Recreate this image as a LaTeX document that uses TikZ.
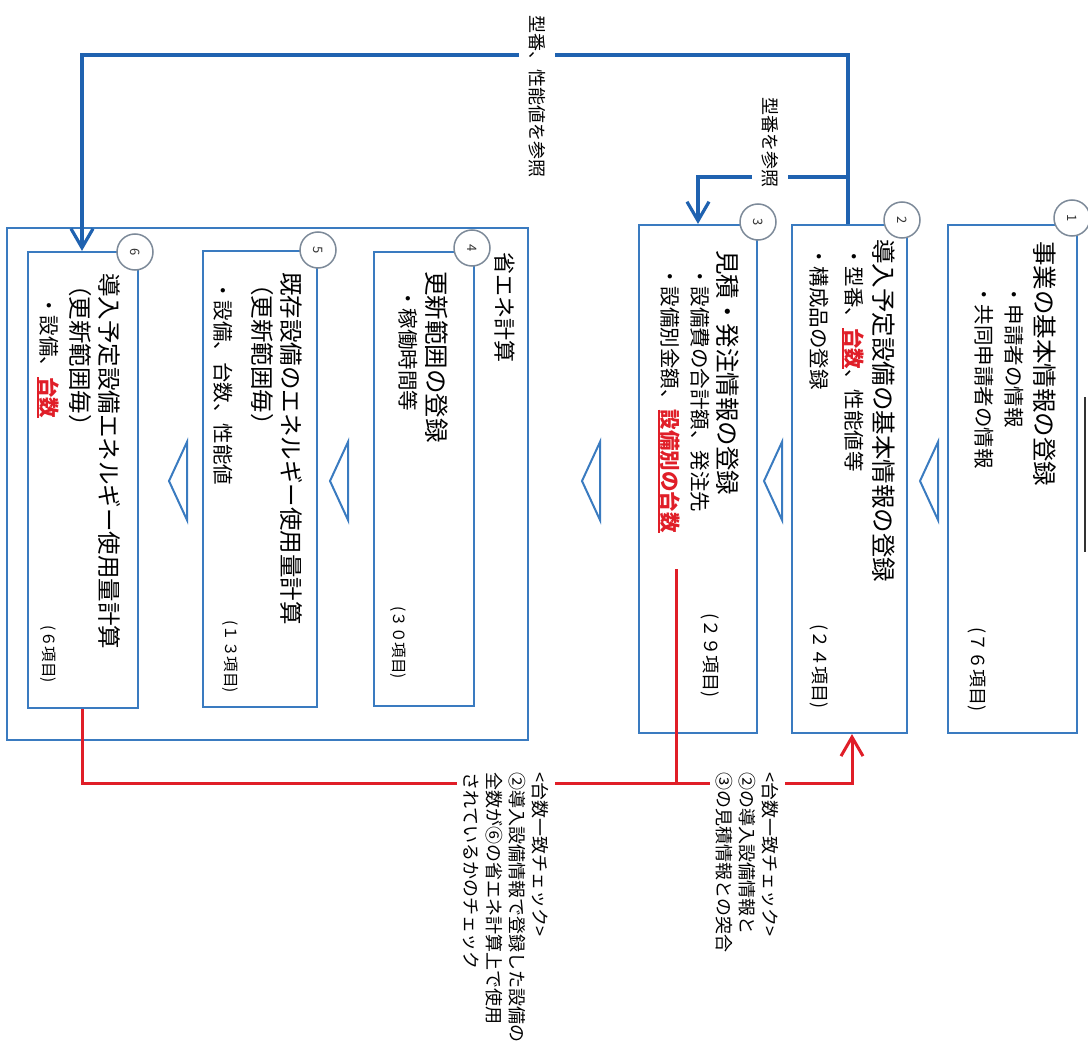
\documentclass[tikz,border=0pt]{standalone}
\usepackage{fontspec}
\setmainfont{Noto Sans CJK JP}
\usetikzlibrary{arrows.meta}
\definecolor{boxblue}{HTML}{3A7BC0}
\definecolor{linkblue}{HTML}{1F62B0}
\definecolor{chkred}{HTML}{E01E28}
\definecolor{ringgray}{HTML}{7D8A99}
\newcommand\hlred[1]{\textcolor{chkred}{\bfseries\setbox0\hbox{#1}\rlap{\rule[-4pt]{\wd0}{1.6pt}}\box0}}
\tikzset{
  box/.style={draw=boxblue, line width=2.2pt, fill=white, inner sep=0pt},
  ring/.style={circle, draw=ringgray, line width=1.5pt, fill=white, minimum size=36pt, inner sep=0pt, font=\fontsize{13}{13}\selectfont, text=black!80, rotate=-90},
  link/.style={draw=linkblue, line width=3.2pt},
  chk/.style={draw=chkred, line width=3pt},
  tri/.style={draw=boxblue, line width=2pt, line join=miter},
  barb/.style={-{Straight Barb[length=19pt,width=22pt]}},
  vt/.style={rotate=-90, anchor=west, inner sep=0pt},
  ttl/.style={vt, font=\fontsize{24.5}{24.5}\selectfont},
  ttls/.style={vt, font=\fontsize{23.5}{23.5}\selectfont},
  itm/.style={vt, font=\fontsize{20.5}{20.5}\selectfont},
  note/.style={rotate=-90, anchor=east, inner sep=0pt, font=\fontsize{18}{18}\selectfont},
  notes/.style={rotate=-90, anchor=east, inner sep=0pt, font=\fontsize{15.5}{15.5}\selectfont},
  lbl/.style={rotate=-90, anchor=north west, fill=white, inner sep=6pt, font=\fontsize{18}{23}\selectfont, align=left},
  rlbl/.style={rotate=-90, anchor=west, fill=white, inner xsep=0pt, inner ysep=10pt, font=\fontsize{18}{18}\selectfont},
}
\begin{document}
\begin{tikzpicture}[x=1pt,y=-1pt]
\useasboundingbox (0,0) rectangle (1088,1054);
\fill[white] (0,0) rectangle (1088,1054);

% decorative black line at right edge
\draw[line width=2pt, black!80] (1085,397) -- (1085,552);

% boxes
\node[box, minimum width=129pt, minimum height=508pt] (b1) at (1012.5,479) {};
\node[box, minimum width=115pt, minimum height=508pt] (b2) at (849.5,479) {};
\node[box, minimum width=118pt, minimum height=508pt] (b3) at (698,479) {};
\node[box, minimum width=521pt, minimum height=512pt] (bo) at (267.5,484) {};
\node[box, minimum width=100pt, minimum height=454pt] (b4) at (424,479) {};
\node[box, minimum width=114pt, minimum height=456pt] (b5) at (260,479) {};
\node[box, minimum width=110pt, minimum height=456pt] (b6) at (83,480) {};

% flow triangles
\draw[tri] (938,442) -- (920,481) -- (938,520) -- cycle;
\draw[tri] (782,442) -- (764,481) -- (782,520) -- cycle;
\draw[tri] (600,442) -- (582,481) -- (600,520) -- cycle;
\draw[tri] (348,442) -- (330,481) -- (348,520) -- cycle;
\draw[tri] (187,442) -- (169,481) -- (187,520) -- cycle;

% connectors
\coordinate (k1) at (848,55);
\coordinate (k2) at (82,55);
\coordinate (k3) at (848,177);
\coordinate (k4) at (698,177);
\draw[link, barb] (b2.north -| k1) -- (k1) -- (k2) -- (b6.north -| k2);
\draw[link, barb] (k3) -- (k4) -- (b3.north -| k4);

\coordinate (r1) at (676,569);
\coordinate (r2) at (676,783);
\coordinate (r3) at (852,783);
\coordinate (r4) at (82,783);
\draw[chk, barb] (r1) -- (r2) -- (r3) -- (b2.south -| r3);
\draw[chk] (b6.south -| r4) -- (r4) -- (r2);

% number rings
\node[ring] (c1) at (1072,218) {1};
\node[ring] (c2) at (902,220) {2};
\node[ring] (c3) at (758,222) {3};
\node[ring] (c4) at (472,248) {4};
\node[ring] (c5) at (318,250) {5};
\node[ring] (c6) at (135,252) {6};

% box 1
\node[ttl] (t1) at (1045,241) {事業の基本情報の登録};
\node[itm] (i1a) at (1014,284) {・申請者の情報};
\node[itm] (i1b) at (984,284) {・共同申請者の情報};
\node[note] (n1) at (977,712) {(７６項目)};

% box 2
\node[ttl] (t2) at (884,239) {導入予定設備の基本情報の登録};
\node[itm] (i2a) at (853,246) {・型番、\hlred{台数}、性能値等};
\node[itm] (i2b) at (819,246) {・構成品の登録};
\node[note] (n2) at (819,709) {(２４項目)};

% box 3
\node[ttl] (t3) at (728,250) {見積・発注情報の登録};
\node[itm] (i3a) at (700,266) {・設備費の合計額、発注先};
\node[itm] (i3b) at (669,266) {・設備別金額、\hlred{設備別の台数}};
\node[note] (n3) at (710,698) {(２９項目)};

% outer group + box 4
\node[vt, font=\fontsize{22}{22}\selectfont] (to) at (505,252) {省エネ計算};
\node[ttl] (t4) at (437,271) {更新範囲の登録};
\node[itm] (i4) at (408,288) {・稼働時間等};
\node[notes] (n4) at (398,679) {(３０項目)};

% box 5
\node[ttls] (t5) at (292,272) {既存設備のエネルギー使用量計算};
\node[ttls] (t5b) at (262,272) {（更新範囲毎）};
\node[itm] (i5) at (223,280) {・設備、台数、性能値};
\node[notes] (n5) at (230,693) {(１３項目)};

% box 6
\node[ttls] (t6) at (110,273) {導入予定設備エネルギー使用量計算};
\node[ttls] (t6b) at (80,273) {（更新範囲毎）};
\node[itm] (i6) at (48,295) {・設備、\hlred{台数}};
\node[notes] (n6) at (48,683) {(６項目)};

% connector labels
\node[rlbl] (lr1) at (537,15) {型番、性能値を参照};
\node[rlbl] (lr2) at (770,97) {型番を参照};
\node[lbl] (la) at (785,766) {<台数一致チェック>\\②の導入設備情報と\\③の見積情報との突合};
\node[lbl] (lb) at (555,766) {<台数一致チェック>\\②導入設備情報で登録した設備の\\全数が⑥の省エネ計算上で使用\\されているかのチェック};
\end{tikzpicture}
\end{document}
